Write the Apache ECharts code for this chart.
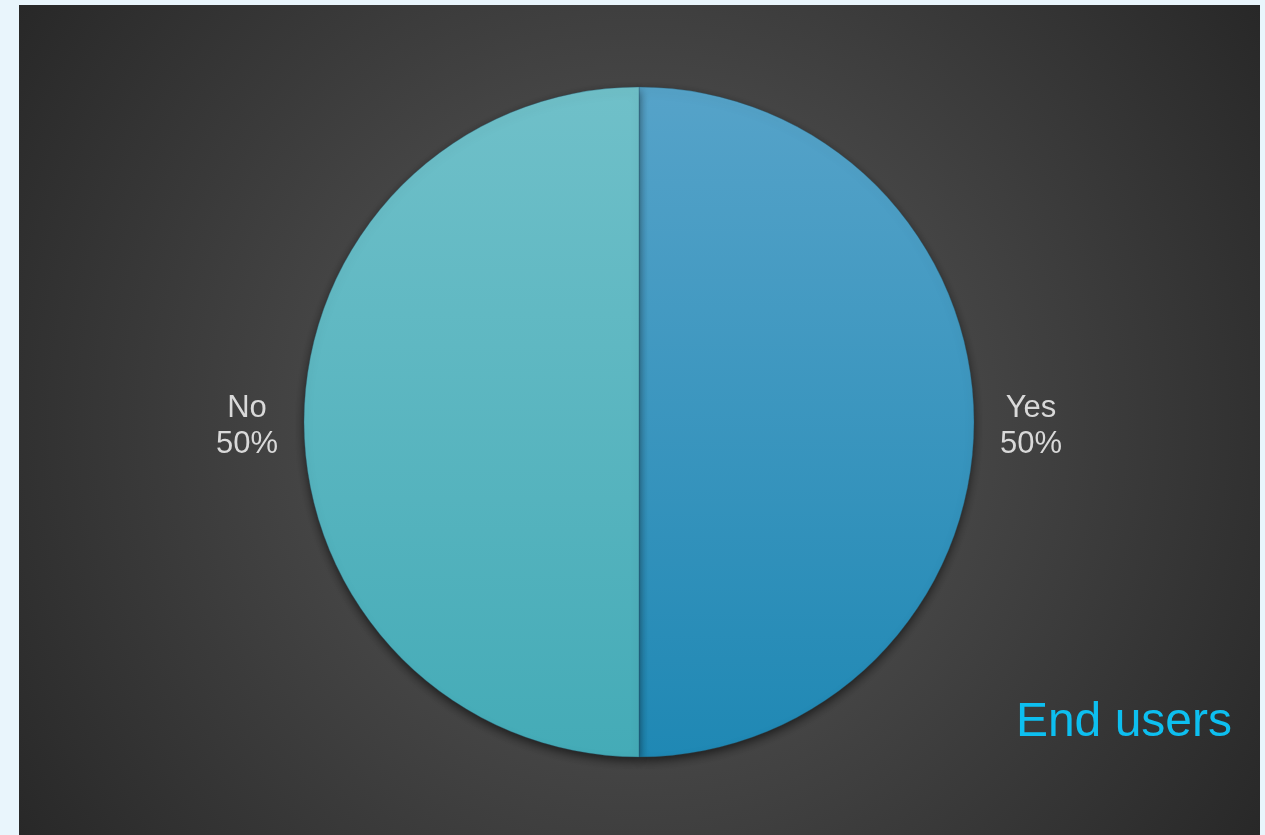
<!DOCTYPE html>
<html>
<head>
<meta charset="utf-8">
<script src="https://cdn.jsdelivr.net/npm/echarts@6/dist/echarts.min.js"></script>
<style>
html,body{margin:0;padding:0;background:#e9f5fc;}
#chart{width:1265px;height:835px;}
</style>
</head>
<body>
<div id="chart"></div>
<script>
const categories = ['Yes', 'No'];
const values = [50, 50];
const titleText = 'End users';

const sliceColors = [
  { top: '#56a3c9', bottom: '#1f88b4' },
  { top: '#70c0c9', bottom: '#44abb7' }
];

const chart = echarts.init(document.getElementById('chart'), null, { renderer: 'canvas' });

const data = categories.map((c, i) => ({
  name: c,
  value: values[i],
  itemStyle: {
    color: {
      type: 'linear', x: 0, y: 0, x2: 0, y2: 1,
      colorStops: [
        { offset: 0, color: sliceColors[i].top },
        { offset: 1, color: sliceColors[i].bottom }
      ]
    }
  }
}));

const option = {
  backgroundColor: '#e9f5fc',
  animation: false,
  graphic: [
    {
      type: 'rect',
      z: -10,
      shape: { x: 19, y: 5, width: 1241, height: 830 },
      style: {
        fill: {
          type: 'radial', x: 639, y: 422, r: 760, global: true,
          colorStops: [
            { offset: 0, color: '#4c4c4c' },
            { offset: 0.45, color: '#444444' },
            { offset: 1, color: '#272727' }
          ]
        }
      }
    },
    {
      type: 'text',
      z: 10,
      style: {
        text: titleText,
        x: 1232,
        y: 723,
        textAlign: 'right',
        textVerticalAlign: 'middle',
        fill: '#0dbff0',
        font: '48px "Liberation Sans", Arial, sans-serif'
      }
    }
  ],
  series: [
    {
      type: 'pie',
      center: [639, 422],
      radius: [0, 335],
      startAngle: 90,
      clockwise: true,
      data: data,
      itemStyle: {
        borderColor: 'rgba(40,90,110,0.35)',
        borderWidth: 1,
        shadowColor: 'rgba(0,0,0,0.55)',
        shadowBlur: 10,
        shadowOffsetY: 4
      },
      label: {
        show: true,
        position: 'outside',
        formatter: '{a|{b}}\n{a|{d}%}',
        color: '#d9d9d9',
        padding: [8, 0, 0, 0],
        rich: {
          a: {
            width: 66,
            align: 'center',
            fontSize: 31,
            lineHeight: 36,
            color: '#d9d9d9',
            fontFamily: '"Liberation Sans", Arial, sans-serif'
          }
        }
      },
      labelLine: { show: false, length: 19, length2: 0 },
      emphasis: { disabled: true }
    }
  ]
};
chart.setOption(option);
</script>
</body>
</html>
